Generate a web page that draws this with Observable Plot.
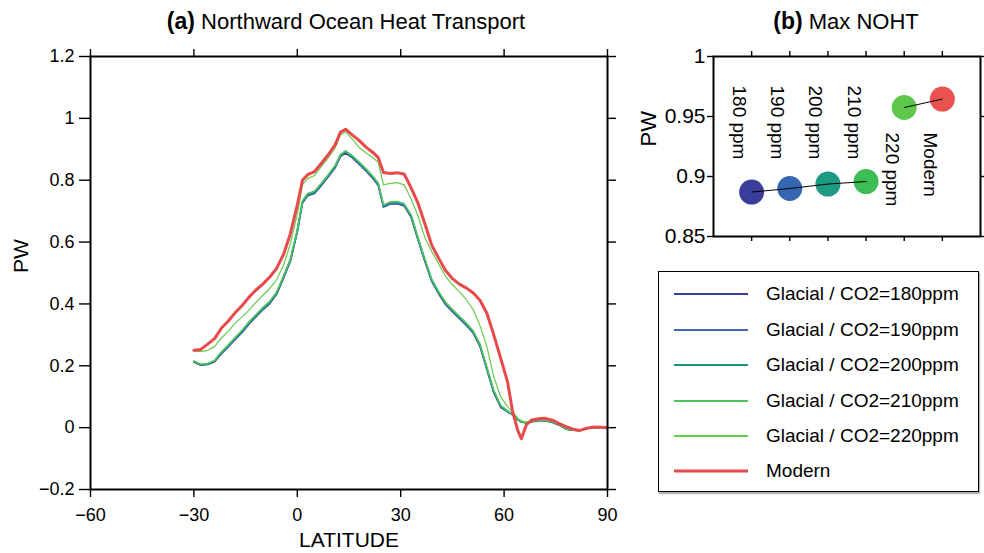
<!DOCTYPE html>
<html>
<head>
<meta charset="utf-8">
<script src="https://cdn.jsdelivr.net/npm/d3@7"></script>
<script src="https://cdn.jsdelivr.net/npm/@observablehq/plot@0.6"></script>
<style>
  html, body { margin: 0; padding: 0; background: #fff; }
  #wrap { position: relative; width: 984px; height: 553px; font-family: "Liberation Sans", Arial, Helvetica, sans-serif; color: #000; overflow: hidden; background: #fff; }
  .title { position: absolute; top: 8px; font-size: 22px; white-space: nowrap; transform: translateX(-50%); z-index: 5; }
  .title b { font-weight: bold; font-size: 23px; }
  #panelA { position: absolute; left: 0; top: 0; z-index: 1; }
  #panelB { position: absolute; left: 630px; top: 0; z-index: 2; }
  #legend { position: absolute; left: 658px; top: 271px; width: 319px; height: 219px; border: 1.6px solid #000; box-shadow: 1px 2px 1px rgba(0,0,0,0.3); background: #fff; z-index: 3; }
  .row { position: absolute; left: 0; height: 30px; display: flex; align-items: center; font-size: 19px; white-space: nowrap; }
  .row .sw { width: 74px; margin-left: 15px; margin-right: 18px; }
</style>
</head>
<body>
<div id="wrap">
  <div class="title" style="left:346px"><b>(a)</b> Northward Ocean Heat Transport</div>
  <div class="title" style="left:846px"><b>(b)</b> Max NOHT</div>
  <div id="panelA"></div>
  <div id="panelB"></div>
  <div id="legend"></div>
</div>
<script>
// ---------- data ----------
const latitude = [-30,-28,-26,-24,-22,-20,-18,-16,-14,-12,
  -10,-8,-6,-4,-2,0,1.5,3,5,7,
  9,11,12.5,14,16,18,20,22,23.5,25,
  27,29,31,33,35,37,39,41,43,45,
  47,49,51,53,55,57,59,61,62.5,64,
  65,66.5,68,70,72,74,76,78,80,82,
  84,86,88,90];

const glacial180 = [0.212,0.202,0.204,0.213,0.239,0.262,0.285,0.308,0.335,0.358,
  0.381,0.401,0.431,0.483,0.538,0.633,0.726,0.750,0.757,0.783,
  0.811,0.841,0.876,0.888,0.872,0.851,0.829,0.805,0.783,0.713,
  0.723,0.724,0.717,0.681,0.608,0.538,0.473,0.433,0.398,0.375,
  0.353,0.331,0.306,0.263,0.188,0.113,0.066,0.051,0.041,0.025,
  0.018,0.015,0.018,0.023,0.022,0.017,0.008,-0.005,-0.008,-0.009,
  -0.003,0.001,0.000,0.000];

const glacial190 = [0.213,0.203,0.205,0.214,0.241,0.264,0.287,0.310,0.337,0.360,
  0.383,0.403,0.433,0.485,0.540,0.635,0.728,0.752,0.759,0.785,
  0.813,0.843,0.878,0.890,0.874,0.853,0.831,0.807,0.785,0.715,
  0.725,0.726,0.719,0.683,0.610,0.540,0.475,0.435,0.400,0.377,
  0.355,0.333,0.308,0.265,0.190,0.115,0.068,0.052,0.042,0.026,
  0.019,0.016,0.019,0.024,0.023,0.018,0.009,-0.004,-0.008,-0.009,
  -0.003,0.001,0.000,0.000];

const glacial200 = [0.214,0.204,0.206,0.216,0.243,0.266,0.290,0.313,0.340,0.363,
  0.386,0.406,0.436,0.488,0.543,0.638,0.731,0.755,0.762,0.788,
  0.816,0.846,0.881,0.893,0.877,0.856,0.834,0.810,0.788,0.718,
  0.728,0.729,0.722,0.686,0.613,0.543,0.478,0.438,0.403,0.380,
  0.358,0.336,0.311,0.268,0.193,0.118,0.070,0.053,0.043,0.027,
  0.019,0.016,0.019,0.024,0.023,0.018,0.009,-0.004,-0.008,-0.009,
  -0.003,0.001,0.000,0.000];

const glacial210 = [0.215,0.205,0.207,0.217,0.245,0.268,0.292,0.315,0.342,0.365,
  0.388,0.408,0.438,0.490,0.545,0.640,0.733,0.757,0.764,0.790,
  0.818,0.848,0.883,0.895,0.879,0.858,0.836,0.812,0.790,0.720,
  0.730,0.731,0.724,0.688,0.615,0.545,0.480,0.440,0.405,0.382,
  0.360,0.338,0.313,0.270,0.195,0.120,0.072,0.054,0.044,0.028,
  0.020,0.017,0.020,0.025,0.024,0.019,0.010,-0.003,-0.007,-0.009,
  -0.003,0.001,0.000,0.000];

const glacial220 = [0.248,0.246,0.250,0.262,0.290,0.312,0.338,0.358,0.380,0.405,
  0.428,0.450,0.478,0.525,0.595,0.690,0.785,0.805,0.815,0.845,
  0.873,0.905,0.945,0.957,0.932,0.905,0.888,0.872,0.858,0.785,
  0.790,0.792,0.785,0.740,0.685,0.615,0.570,0.530,0.490,0.462,
  0.440,0.415,0.382,0.330,0.262,0.165,0.100,0.068,0.052,0.030,
  0.022,0.018,0.021,0.026,0.025,0.019,0.010,-0.003,-0.007,-0.009,
  -0.003,0.001,0.000,0.000];

const modern = [0.250,0.253,0.270,0.288,0.322,0.345,0.372,0.395,0.422,0.445,
  0.464,0.487,0.515,0.560,0.627,0.720,0.800,0.818,0.828,0.855,
  0.883,0.915,0.955,0.965,0.946,0.928,0.906,0.889,0.873,0.825,
  0.822,0.824,0.820,0.776,0.726,0.660,0.590,0.548,0.508,0.482,
  0.464,0.452,0.436,0.412,0.370,0.300,0.225,0.148,0.050,-0.010,
  -0.036,0.010,0.025,0.029,0.030,0.024,0.013,0.003,-0.005,-0.009,
  -0.002,0.002,0.001,0.000];

const seriesNames = ["Glacial / CO2=180ppm","Glacial / CO2=190ppm","Glacial / CO2=200ppm","Glacial / CO2=210ppm","Glacial / CO2=220ppm","Modern"];
const seriesValues = [glacial180, glacial190, glacial200, glacial210, glacial220, modern];
const seriesColors = ["#3b3e9b","#4169b8","#14977b","#4cc35c","#66cc4c","#e8494b"];
const seriesWidths = [1.6, 1.6, 1.6, 1.6, 1.2, 3];

const xTicksA = [-60,-30,0,30,60,90];
const yTicksA = [-0.2,0,0.2,0.4,0.6,0.8,1,1.2];

// panel (b)
const maxLabels = ["180 ppm","190 ppm","200 ppm","210 ppm","220 ppm","Modern"];
const maxValues = [0.887, 0.890, 0.8937, 0.8958, 0.9575, 0.9645];
const maxGroups = ["glacial","glacial","glacial","glacial","warm","warm"];
const xTicksB = [1,2,3,4,5,6];
const yTicksB = [0.85,0.9,0.95,1];

// ---------- panel (a) ----------
const fmt = d3.format("~g");
const FONT = '"Liberation Sans", Arial, Helvetica, sans-serif';

const lineMarks = seriesValues.map((vals, s) => {
  const rows = latitude.map((lat, i) => ({lat, v: vals[i]}));
  return Plot.line(rows, {x: "lat", y: "v", stroke: seriesColors[s], strokeWidth: seriesWidths[s], strokeLinejoin: "round", curve: "linear"});
});

const chartA = Plot.plot({
  width: 640, height: 553,
  marginLeft: 90, marginRight: 33, marginTop: 56, marginBottom: 64,
  style: {fontFamily: FONT, color: "#000", background: "transparent", overflow: "visible"},
  x: {domain: [-60, 90]},
  y: {domain: [-0.2, 1.2]},
  marks: [
    ...lineMarks,
    Plot.axisX(xTicksA, {anchor: "bottom", tickSize: 8, tickPadding: 11, fontSize: 18, strokeWidth: 1.4, tickFormat: fmt, label: null}),
    Plot.axisX(xTicksA, {anchor: "top", tickSize: 8, strokeWidth: 1.4, tickFormat: () => "", label: null}),
    Plot.axisY(yTicksA, {anchor: "left", tickSize: 11, tickPadding: 5, fontSize: 18, strokeWidth: 1.4, tickFormat: fmt, label: null}),
    Plot.axisY(yTicksA, {anchor: "right", tickSize: 8, strokeWidth: 1.4, tickFormat: () => "", label: null}),
    Plot.frame({stroke: "#000", strokeWidth: 2}),
    Plot.text(["LATITUDE"], {frameAnchor: "bottom", dy: 57, fontSize: 21, fill: "#000"}),
    Plot.text(["PW"], {frameAnchor: "left", dx: -69, rotate: -90, fontSize: 21, fill: "#000"})
  ]
});
document.getElementById("panelA").appendChild(chartA);

// ---------- panel (b) ----------
const pts = maxLabels.map((label, i) => ({label, v: maxValues[i], k: i + 1, g: maxGroups[i]}));
const dotColors = ["#3a3d99","#3566b0","#1d9a82","#3cbd56","#5dc84c","#e9524f"];

const chartB = Plot.plot({
  width: 354, height: 260,
  marginLeft: 83, marginRight: 4, marginTop: 56, marginBottom: 24,
  style: {fontFamily: FONT, color: "#000", background: "transparent", overflow: "visible"},
  x: {domain: [0, 7]},
  y: {domain: [0.85, 1]},
  marks: [
    Plot.dot(pts, {x: "k", y: "v", r: 12.5, fill: (d, i) => dotColors[i], stroke: "none"}),
    Plot.line(pts, {x: "k", y: "v", z: "g", stroke: "#000", strokeWidth: 1}),
    Plot.text(pts.filter(d => d.g === "glacial"), {x: "k", text: "label", frameAnchor: "top", dy: 29, dx: -5, rotate: 90, textAnchor: "start", fontSize: 19, fill: "#000"}),
    Plot.text(pts.filter(d => d.g === "warm"), {x: "k", text: "label", frameAnchor: "top", dy: 76, dx: -5, rotate: 90, textAnchor: "start", fontSize: 19, fill: "#000"}),
    Plot.axisX(xTicksB, {anchor: "bottom", tickSize: 5, strokeWidth: 1.4, tickFormat: () => "", label: null}),
    Plot.axisX(xTicksB, {anchor: "top", tickSize: 6, strokeWidth: 1.4, tickFormat: () => "", label: null}),
    Plot.axisY(yTicksB, {anchor: "left", tickSize: 6, tickPadding: 2, fontSize: 21, strokeWidth: 1.4, tickFormat: fmt, label: null}),
    Plot.axisY(yTicksB, {anchor: "right", tickSize: 6, strokeWidth: 1.4, tickFormat: () => "", label: null}),
    Plot.frame({stroke: "#000", strokeWidth: 2}),
    Plot.text(["PW"], {frameAnchor: "left", dx: -65, rotate: -90, fontSize: 22, fill: "#000"})
  ]
});
document.getElementById("panelB").appendChild(chartB);

// ---------- legend ----------
const legend = document.getElementById("legend");
const rowCenters = [22, 57.5, 93, 128.5, 164, 199];
seriesNames.forEach((name, i) => {
  const row = document.createElement("div");
  row.className = "row";
  row.style.top = (rowCenters[i] - 15) + "px";
  const sw = document.createElementNS("http://www.w3.org/2000/svg", "svg");
  sw.setAttribute("class", "sw");
  sw.setAttribute("width", 74);
  sw.setAttribute("height", 8);
  const ln = document.createElementNS("http://www.w3.org/2000/svg", "line");
  ln.setAttribute("x1", 0); ln.setAttribute("x2", 74);
  ln.setAttribute("y1", 4); ln.setAttribute("y2", 4);
  ln.setAttribute("stroke", seriesColors[i]);
  ln.setAttribute("stroke-width", i === 5 ? 3 : 1.8);
  sw.appendChild(ln);
  row.appendChild(sw);
  const t = document.createElement("span");
  t.textContent = name;
  row.appendChild(t);
  legend.appendChild(row);
});
</script>
</body>
</html>
